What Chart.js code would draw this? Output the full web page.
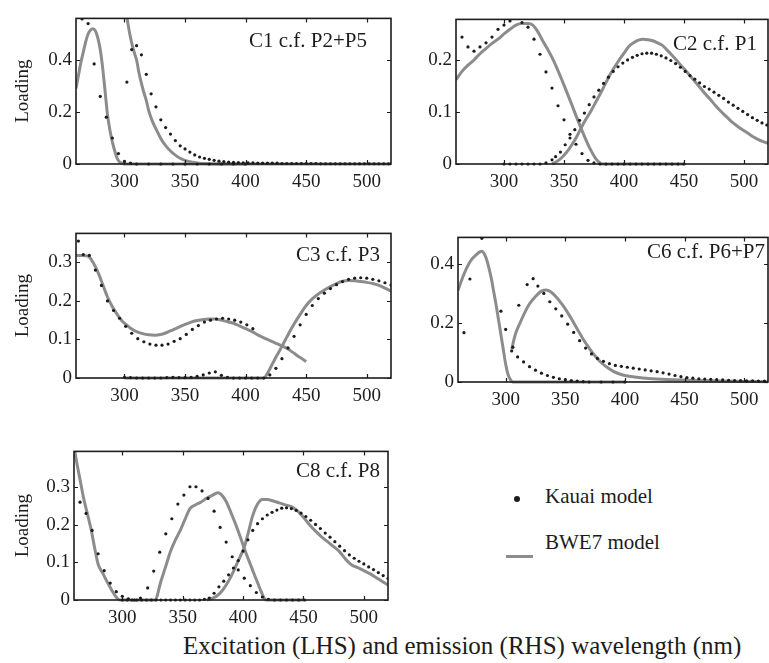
<!DOCTYPE html>
<html>
<head>
<meta charset="utf-8">
<script src="https://cdn.jsdelivr.net/npm/chart.js"></script>
<style>
  body { margin: 0; width: 769px; height: 663px; overflow: hidden; position: relative; background: #fff;
         font-family: "Liberation Serif", "Times New Roman", serif; color: #1c1c1c; }
  canvas { position: absolute; }
  .txt { position: absolute; white-space: nowrap; }
  #legDot { position: absolute; left: 514px; top: 496px; width: 6px; height: 6px; border-radius: 50%; background: #1c1c1c; }
  #legLine { position: absolute; left: 506px; top: 555px; width: 27px; height: 3px; background: #8c8c8c; }
</style>
</head>
<body>
<div id="legDot"></div>
<div class="txt" style="left:545px; top:483px; font-size:21px; line-height:26px;">Kauai model</div>
<div id="legLine"></div>
<div class="txt" style="left:545px; top:529px; font-size:21px; line-height:26px;">BWE7 model</div>
<div class="txt" style="left:183px; top:632px; font-size:25px; line-height:28px;">Excitation (LHS) and emission (RHS) wavelength (nm)</div>

<script>
// tick labels
const xTicks = [300, 350, 400, 450, 500];
const c1YTicks = [0, 0.2, 0.4];
const c2YTicks = [0, 0.1, 0.2];
const c3YTicks = [0, 0.1, 0.2, 0.3];
const c6YTicks = [0, 0.2, 0.4];
const c8YTicks = [0, 0.1, 0.2, 0.3];

// [wavelength, loading]
const c1KauaiEx = [[265,0.558],[270,0.54],[275,0.385],[280,0.26],[285,0.18],[290,0.10],[295,0.04],[300,0.01],[305,0.003],
  [310,0],[320,0],[330,0],[340,0],[350,0],[360,0],[370,0],[380,0],[390,0],[400,0]];
const c1KauaiEm = [[302,0.315],[306,0.44],[310,0.455],[314,0.42],[318,0.345],[322,0.27],[326,0.22],[330,0.17],[334,0.14],
  [338,0.115],[342,0.09],[346,0.07],[350,0.058],[354,0.046],[358,0.035],[362,0.027],[366,0.022],[370,0.018],[374,0.014],
  [378,0.011],[382,0.009],[386,0.007],[390,0.006],[394,0.005],[398,0.004],[402,0.004],[406,0.004],[410,0.003],[414,0.003],
  [418,0.003],[422,0.003],[426,0.003],[430,0.002],[434,0.002],[438,0.002],[442,0.002],[446,0.002],[450,0.002],[454,0.002],
  [458,0.002],[462,0.001],[466,0.001],[470,0.001],[474,0.001],[478,0.001],[482,0.001],[486,0.001],[490,0.001],[494,0.001],
  [498,0.001],[502,0.001],[506,0.001],[510,0.001],[514,0.001],[518,0.001]];
const c1BweEx = [[260,0.29],[262,0.34],[264,0.39],[266,0.43],[268,0.47],[270,0.5],[272,0.515],[274,0.52],[276,0.512],
  [278,0.485],[280,0.44],[282,0.37],[284,0.28],[286,0.19],[288,0.13],[290,0.085],[292,0.05],[294,0.022],[296,0.008],
  [298,0.002],[300,0],[320,0],[340,0],[360,0],[380,0],[400,0]];
const c1BweEm = [[300,0.63],[302,0.565],[304,0.51],[306,0.465],[308,0.43],[310,0.4],[312,0.35],[314,0.31],[316,0.275],
  [318,0.245],[320,0.205],[323,0.165],[326,0.135],[329,0.107],[332,0.083],[335,0.065],[338,0.05],[342,0.034],[346,0.022],
  [350,0.014],[355,0.008],[360,0.004],[370,0.001],[380,0],[400,0],[450,0],[500,0],[520,0]];

const c2KauaiEx = [[265,0.244],[270,0.225],[275,0.217],[280,0.225],[285,0.233],[290,0.244],[295,0.259],[300,0.267],
  [305,0.275],[310,0.281],[315,0.272],[320,0.263],[325,0.24],[330,0.211],[335,0.177],[340,0.146],[345,0.112],[350,0.085],
  [355,0.057],[360,0.038],[365,0.02],[370,0.007],[375,0.002],[380,0],[385,0],[390,0],[395,0],[400,0],[405,0],[410,0],
  [415,0],[420,0],[425,0],[430,0],[435,0],[440,0],[445,0],[450,0]];
const c2KauaiEm = [[300,0],[305,0],[310,0],[315,0],[320,0],[325,0],[330,0],[335,0.002],[340,0.008],[343,0.014],[347,0.023],
  [351,0.037],[355,0.05],[359,0.066],[363,0.084],[367,0.098],[371,0.114],[375,0.129],[379,0.142],[383,0.155],[387,0.167],
  [391,0.178],[395,0.187],[399,0.194],[403,0.2],[407,0.205],[411,0.209],[415,0.212],[419,0.213],[423,0.213],[427,0.211],
  [431,0.208],[435,0.204],[439,0.199],[443,0.193],[447,0.186],[451,0.178],[455,0.17],[459,0.163],[463,0.156],[467,0.149],
  [471,0.144],[475,0.138],[479,0.132],[483,0.126],[487,0.119],[491,0.113],[495,0.107],[499,0.101],[503,0.095],[507,0.089],
  [511,0.084],[515,0.079],[519,0.075]];
const c2BweEx = [[260,0.162],[265,0.178],[270,0.19],[275,0.2],[280,0.212],[285,0.222],[290,0.232],[295,0.24],[300,0.25],
  [305,0.259],[310,0.267],[315,0.27],[320,0.27],[324,0.267],[328,0.255],[332,0.238],[336,0.222],[340,0.205],[344,0.185],
  [348,0.163],[352,0.14],[356,0.117],[360,0.093],[364,0.07],[368,0.048],[372,0.028],[376,0.012],[380,0.002],[382,0],
  [400,0],[420,0],[450,0]];
const c2BweEm = [[340,0],[344,0.005],[348,0.012],[352,0.022],[356,0.035],[360,0.05],[364,0.068],[368,0.085],[372,0.1],
  [376,0.117],[380,0.134],[384,0.152],[388,0.17],[392,0.186],[396,0.2],[400,0.213],[404,0.226],[408,0.233],[412,0.238],
  [416,0.24],[420,0.239],[424,0.237],[428,0.233],[432,0.228],[436,0.219],[440,0.209],[444,0.199],[448,0.188],[452,0.178],
  [456,0.167],[460,0.156],[464,0.145],[468,0.134],[472,0.124],[476,0.113],[480,0.103],[484,0.094],[488,0.085],[492,0.077],
  [496,0.07],[500,0.064],[504,0.058],[508,0.052],[512,0.047],[516,0.043],[520,0.04]];

const c3KauaiEx = [[262,0.355],[266,0.32],[271,0.318],[276,0.28],[281,0.24],[286,0.2],[291,0.175],[296,0.155],[301,0.134],
  [306,0.116],[311,0.102],[316,0.094],[321,0.088],[326,0.085],[331,0.085],[336,0.088],[341,0.095],[346,0.102],[351,0.113],
  [356,0.126],[361,0.136],[366,0.145],[371,0.15],[376,0.153],[381,0.155],[386,0.153],[391,0.15],[396,0.145],[401,0.138],
  [406,0.128]];
const c3KauaiEm = [[300,0.002],[305,0.001],[310,0],[315,0],[320,0],[325,0],[330,0],[335,0.001],[340,0.002],[345,0.001],
  [350,0.001],[355,0.002],[360,0.004],[365,0.008],[370,0.013],[375,0.016],[380,0.007],[385,0.002],[390,0],[395,0],[400,0],
  [405,0],[410,0],[415,0],[420,0.008],[425,0.025],[430,0.05],[435,0.078],[440,0.108],[445,0.138],[450,0.165],[455,0.188],
  [460,0.206],[465,0.22],[470,0.232],[475,0.242],[480,0.25],[485,0.256],[490,0.259],[495,0.26],[500,0.259],[505,0.256],
  [510,0.252],[515,0.247],[520,0.241]];
const c3BweEx = [[260,0.318],[265,0.318],[270,0.316],[274,0.3],[278,0.275],[282,0.243],[286,0.21],[290,0.185],[294,0.165],
  [298,0.148],[302,0.137],[306,0.127],[310,0.12],[315,0.115],[320,0.112],[325,0.111],[330,0.113],[335,0.118],[340,0.125],
  [345,0.132],[350,0.139],[355,0.145],[360,0.149],[365,0.152],[370,0.153],[375,0.153],[380,0.15],[385,0.146],[390,0.142],
  [395,0.135],[400,0.128],[405,0.121],[410,0.112],[415,0.104],[420,0.097],[425,0.09],[430,0.083],[435,0.075],[440,0.064],
  [445,0.053],[450,0.043]];
const c3BweEm = [[300,0],[330,0],[360,0],[390,0],[415,0],[418,0.012],[421,0.03],[424,0.048],[427,0.065],[430,0.082],
  [433,0.1],[436,0.118],[440,0.14],[445,0.165],[450,0.188],[455,0.205],[460,0.218],[465,0.228],[470,0.237],[475,0.245],
  [480,0.251],[485,0.253],[490,0.252],[495,0.25],[500,0.248],[505,0.245],[510,0.24],[515,0.233],[520,0.225]];

const c6KauaiEx = [[265,0.167],[270,0.349],[280,0.487],[296,0.24],[300,0.178],[305,0.105],[310,0.085],[315,0.068],
  [320,0.052],[325,0.04],[330,0.03],[335,0.022],[340,0.016],[345,0.011],[350,0.008],[355,0.005],[360,0.003],[365,0.001],
  [370,0],[380,0],[390,0],[400,0]];
const c6KauaiEm = [[306,0.118],[311,0.26],[318,0.33],[323,0.35],[327,0.325],[332,0.3],[337,0.272],[342,0.248],[347,0.224],
  [352,0.196],[357,0.168],[362,0.14],[367,0.115],[372,0.095],[377,0.08],[382,0.07],[387,0.062],[392,0.056],[397,0.053],
  [402,0.05],[407,0.047],[412,0.044],[417,0.041],[422,0.038],[427,0.035],[432,0.031],[437,0.027],[442,0.022],[447,0.018],
  [452,0.015],[457,0.013],[462,0.011],[467,0.01],[472,0.009],[477,0.008],[482,0.007],[487,0.006],[492,0.005],[497,0.005],
  [502,0.004],[507,0.004],[512,0.003],[517,0.003]];
const c6BweEx = [[260,0.31],[263,0.345],[266,0.375],[269,0.4],[272,0.418],[275,0.43],[278,0.44],[280,0.443],[282,0.435],
  [284,0.415],[286,0.385],[288,0.35],[290,0.305],[292,0.26],[294,0.21],[296,0.16],[298,0.11],[300,0.06],[302,0.025],
  [304,0.008],[306,0],[340,0],[370,0],[400,0]];
const c6BweEm = [[305,0.11],[308,0.16],[312,0.2],[316,0.235],[320,0.265],[325,0.29],[330,0.308],[334,0.312],[338,0.305],
  [342,0.29],[346,0.27],[350,0.248],[355,0.215],[360,0.18],[365,0.145],[370,0.115],[375,0.088],[380,0.066],[385,0.05],
  [390,0.037],[395,0.028],[400,0.022],[410,0.016],[420,0.012],[440,0.008],[460,0.005],[480,0.003],[500,0.002],[520,0.001]];

const c8KauaiEx = [[265,0.26],[270,0.23],[275,0.185],[280,0.123],[285,0.078],[290,0.045],[295,0.022],[300,0.01],
  [305,0.003],[310,0],[315,0.005],[321,0.032],[326,0.077],[331,0.127],[336,0.176],[341,0.216],[346,0.255],[351,0.279],
  [356,0.301],[361,0.301],[366,0.29],[371,0.27],[376,0.236],[381,0.193],[386,0.154],[391,0.115],[396,0.08],[401,0.058],
  [406,0.038],[411,0.02],[416,0.008],[421,0.002],[426,0],[431,0],[436,0],[441,0],[446,0],[451,0]];
const c8KauaiEm = [[300,0],[304,0],[308,0],[312,0],[316,0],[320,0],[324,0],[328,0],[332,0],[336,0],[340,0],[344,0],
  [348,0],[352,0],[356,0],[360,0],[364,0],[368,0.002],[372,0.005],[376,0.018],[380,0.035],[384,0.05],[388,0.067],
  [392,0.085],[396,0.105],[400,0.13],[404,0.16],[408,0.185],[412,0.203],[416,0.216],[420,0.226],[424,0.233],[428,0.239],
  [432,0.244],[436,0.245],[440,0.243],[444,0.238],[448,0.231],[452,0.222],[456,0.212],[460,0.201],[464,0.19],[468,0.178],
  [472,0.167],[476,0.155],[480,0.143],[484,0.131],[488,0.12],[492,0.111],[496,0.103],[500,0.096],[504,0.088],[508,0.081],
  [512,0.073],[516,0.065],[520,0.057]];
const c8BweEx = [[260,0.41],[262,0.37],[265,0.32],[268,0.27],[271,0.23],[274,0.19],[277,0.14],[280,0.095],[284,0.07],
  [288,0.045],[292,0.022],[296,0.004],[298,0],[310,0],[320,0],[327,0],[332,0.05],[336,0.09],[340,0.13],[344,0.16],
  [348,0.185],[352,0.215],[356,0.243],[360,0.252],[365,0.26],[370,0.271],[375,0.279],[379,0.285],[382,0.28],[386,0.262],
  [390,0.232],[394,0.2],[398,0.165],[402,0.128],[406,0.095],[410,0.062],[414,0.03],[417,0.008],[419,0],[430,0],[450,0]];
const c8BweEm = [[370,0],[374,0.004],[378,0.01],[382,0.022],[386,0.04],[390,0.062],[394,0.09],[398,0.118],[401,0.14],
  [404,0.175],[408,0.225],[412,0.255],[416,0.267],[420,0.267],[425,0.263],[430,0.258],[435,0.253],[440,0.248],[445,0.237],
  [450,0.22],[455,0.2],[460,0.183],[465,0.168],[470,0.155],[475,0.142],[480,0.128],[485,0.108],[490,0.093],[495,0.086],
  [500,0.078],[505,0.07],[510,0.06],[515,0.05],[520,0.04]];

const INK = '#1c1c1c';
const LINE = '#8c8c8c';
const FONT = '"Liberation Serif", "Times New Roman", serif';

// plot boxes in page pixels: left, top, right, bottom
const panels = [
  { label: 'C1 c.f. P2+P5', box: [76, 13, 391, 164], yMax: 0.56, yTicks: c1YTicks, yTitle: true, lab: [24, 23],
    series: [c1KauaiEx, c1KauaiEm, c1BweEx, c1BweEm] },
  { label: 'C2 c.f. P1', box: [456, 14, 768, 164], yMax: 0.278, yTicks: c2YTicks, yTitle: false, lab: [11, 25],
    series: [c2KauaiEx, c2KauaiEm, c2BweEx, c2BweEm] },
  { label: 'C3 c.f. P3', box: [76, 228, 391, 378], yMax: 0.375, yTicks: c3YTicks, yTitle: true, lab: [11, 22],
    series: [c3KauaiEx, c3KauaiEm, c3BweEx, c3BweEm] },
  { label: 'C6 c.f. P6+P7', box: [458, 232, 768, 382], yMax: 0.49, yTicks: c6YTicks, yTitle: false, lab: [3, 15],
    series: [c6KauaiEx, c6KauaiEm, c6BweEx, c6BweEm] },
  { label: 'C8 c.f. P8', box: [74, 446, 388, 600], yMax: 0.395, yTicks: c8YTicks, yTitle: true, lab: [8, 20],
    series: [c8KauaiEx, c8KauaiEm, c8BweEx, c8BweEm] }
];

const AX_W = 76, AX_H = 34, PAD_T = 10, PAD_R = 4;

// frame with inward ticks on all four sides + panel caption
const framePlugin = {
  id: 'frame',
  afterDraw(chart, args, opts) {
    const { ctx, chartArea: a, scales: { x, y } } = chart;
    ctx.save();
    ctx.strokeStyle = INK;
    ctx.lineWidth = 1.6;
    ctx.strokeRect(a.left, a.top, a.right - a.left, a.bottom - a.top);
    ctx.beginPath();
    x.ticks.forEach(t => {
      const px = Math.round(x.getPixelForValue(t.value)) + 0.5;
      ctx.moveTo(px, a.bottom); ctx.lineTo(px, a.bottom - 4);
      ctx.moveTo(px, a.top); ctx.lineTo(px, a.top + 4);
    });
    y.ticks.forEach(t => {
      const py = Math.round(y.getPixelForValue(t.value)) + 0.5;
      ctx.moveTo(a.left, py); ctx.lineTo(a.left + 4, py);
      ctx.moveTo(a.right, py); ctx.lineTo(a.right - 4, py);
    });
    ctx.lineWidth = 1.2;
    ctx.stroke();
    ctx.font = '21px ' + FONT;
    ctx.fillStyle = INK;
    ctx.textAlign = 'right';
    ctx.textBaseline = 'middle';
    ctx.fillText(opts.label, a.right - opts.dx, a.top + opts.dy);
    ctx.restore();
  }
};

const toPts = arr => arr.map(([x, y]) => ({ x, y }));

panels.forEach(p => {
  const [l, t, r, b] = p.box;
  const cv = document.createElement('canvas');
  cv.width = (r - l) + AX_W + PAD_R;
  cv.height = (b - t) + PAD_T + AX_H;
  cv.style.left = (l - AX_W) + 'px';
  cv.style.top = (t - PAD_T) + 'px';
  document.body.appendChild(cv);

  const dots = (d) => ({
    data: toPts(d), showLine: false, pointRadius: 1.6, pointBorderWidth: 0,
    pointBackgroundColor: INK, order: 0, clip: { left: 0, top: 0, right: 0, bottom: 3 }
  });
  const line = (d) => ({
    data: toPts(d), borderColor: LINE, borderWidth: 3, pointRadius: 0,
    cubicInterpolationMode: 'monotone', order: 1, clip: { left: 0, top: 0, right: 0, bottom: 3 }
  });

  new Chart(cv, {
    type: 'line',
    data: { datasets: [dots(p.series[0]), dots(p.series[1]), line(p.series[2]), line(p.series[3])] },
    options: {
      responsive: false,
      animation: false,
      events: [],
      layout: { padding: { left: 0, top: PAD_T, right: PAD_R, bottom: 0 } },
      plugins: {
        legend: { display: false },
        tooltip: { enabled: false },
        frame: { label: p.label, dx: p.lab[0], dy: p.lab[1] }
      },
      scales: {
        x: {
          type: 'linear', min: 260, max: 520,
          afterBuildTicks: s => { s.ticks = xTicks.map(v => ({ value: v })); },
          afterFit: s => { s.height = AX_H; },
          grid: { display: false, drawTicks: false },
          border: { display: false },
          ticks: { padding: 7, color: INK, font: { family: FONT, size: 19 }, maxRotation: 0 }
        },
        y: {
          type: 'linear', min: 0, max: p.yMax,
          afterBuildTicks: s => { s.ticks = p.yTicks.map(v => ({ value: v })); },
          afterFit: s => { s.width = AX_W; },
          grid: { display: false, drawTicks: false },
          border: { display: false },
          ticks: { padding: 4, color: INK, font: { family: FONT, size: 19 },
                   callback: v => v === 0 ? '0' : String(v) },
          title: { display: p.yTitle, text: 'Loading', color: INK, font: { family: FONT, size: 19 },
                   padding: { top: 23 - (l - AX_W) - 11.4, bottom: 0 } }
        }
      }
    },
    plugins: [framePlugin]
  });
});
</script>
</body>
</html>
